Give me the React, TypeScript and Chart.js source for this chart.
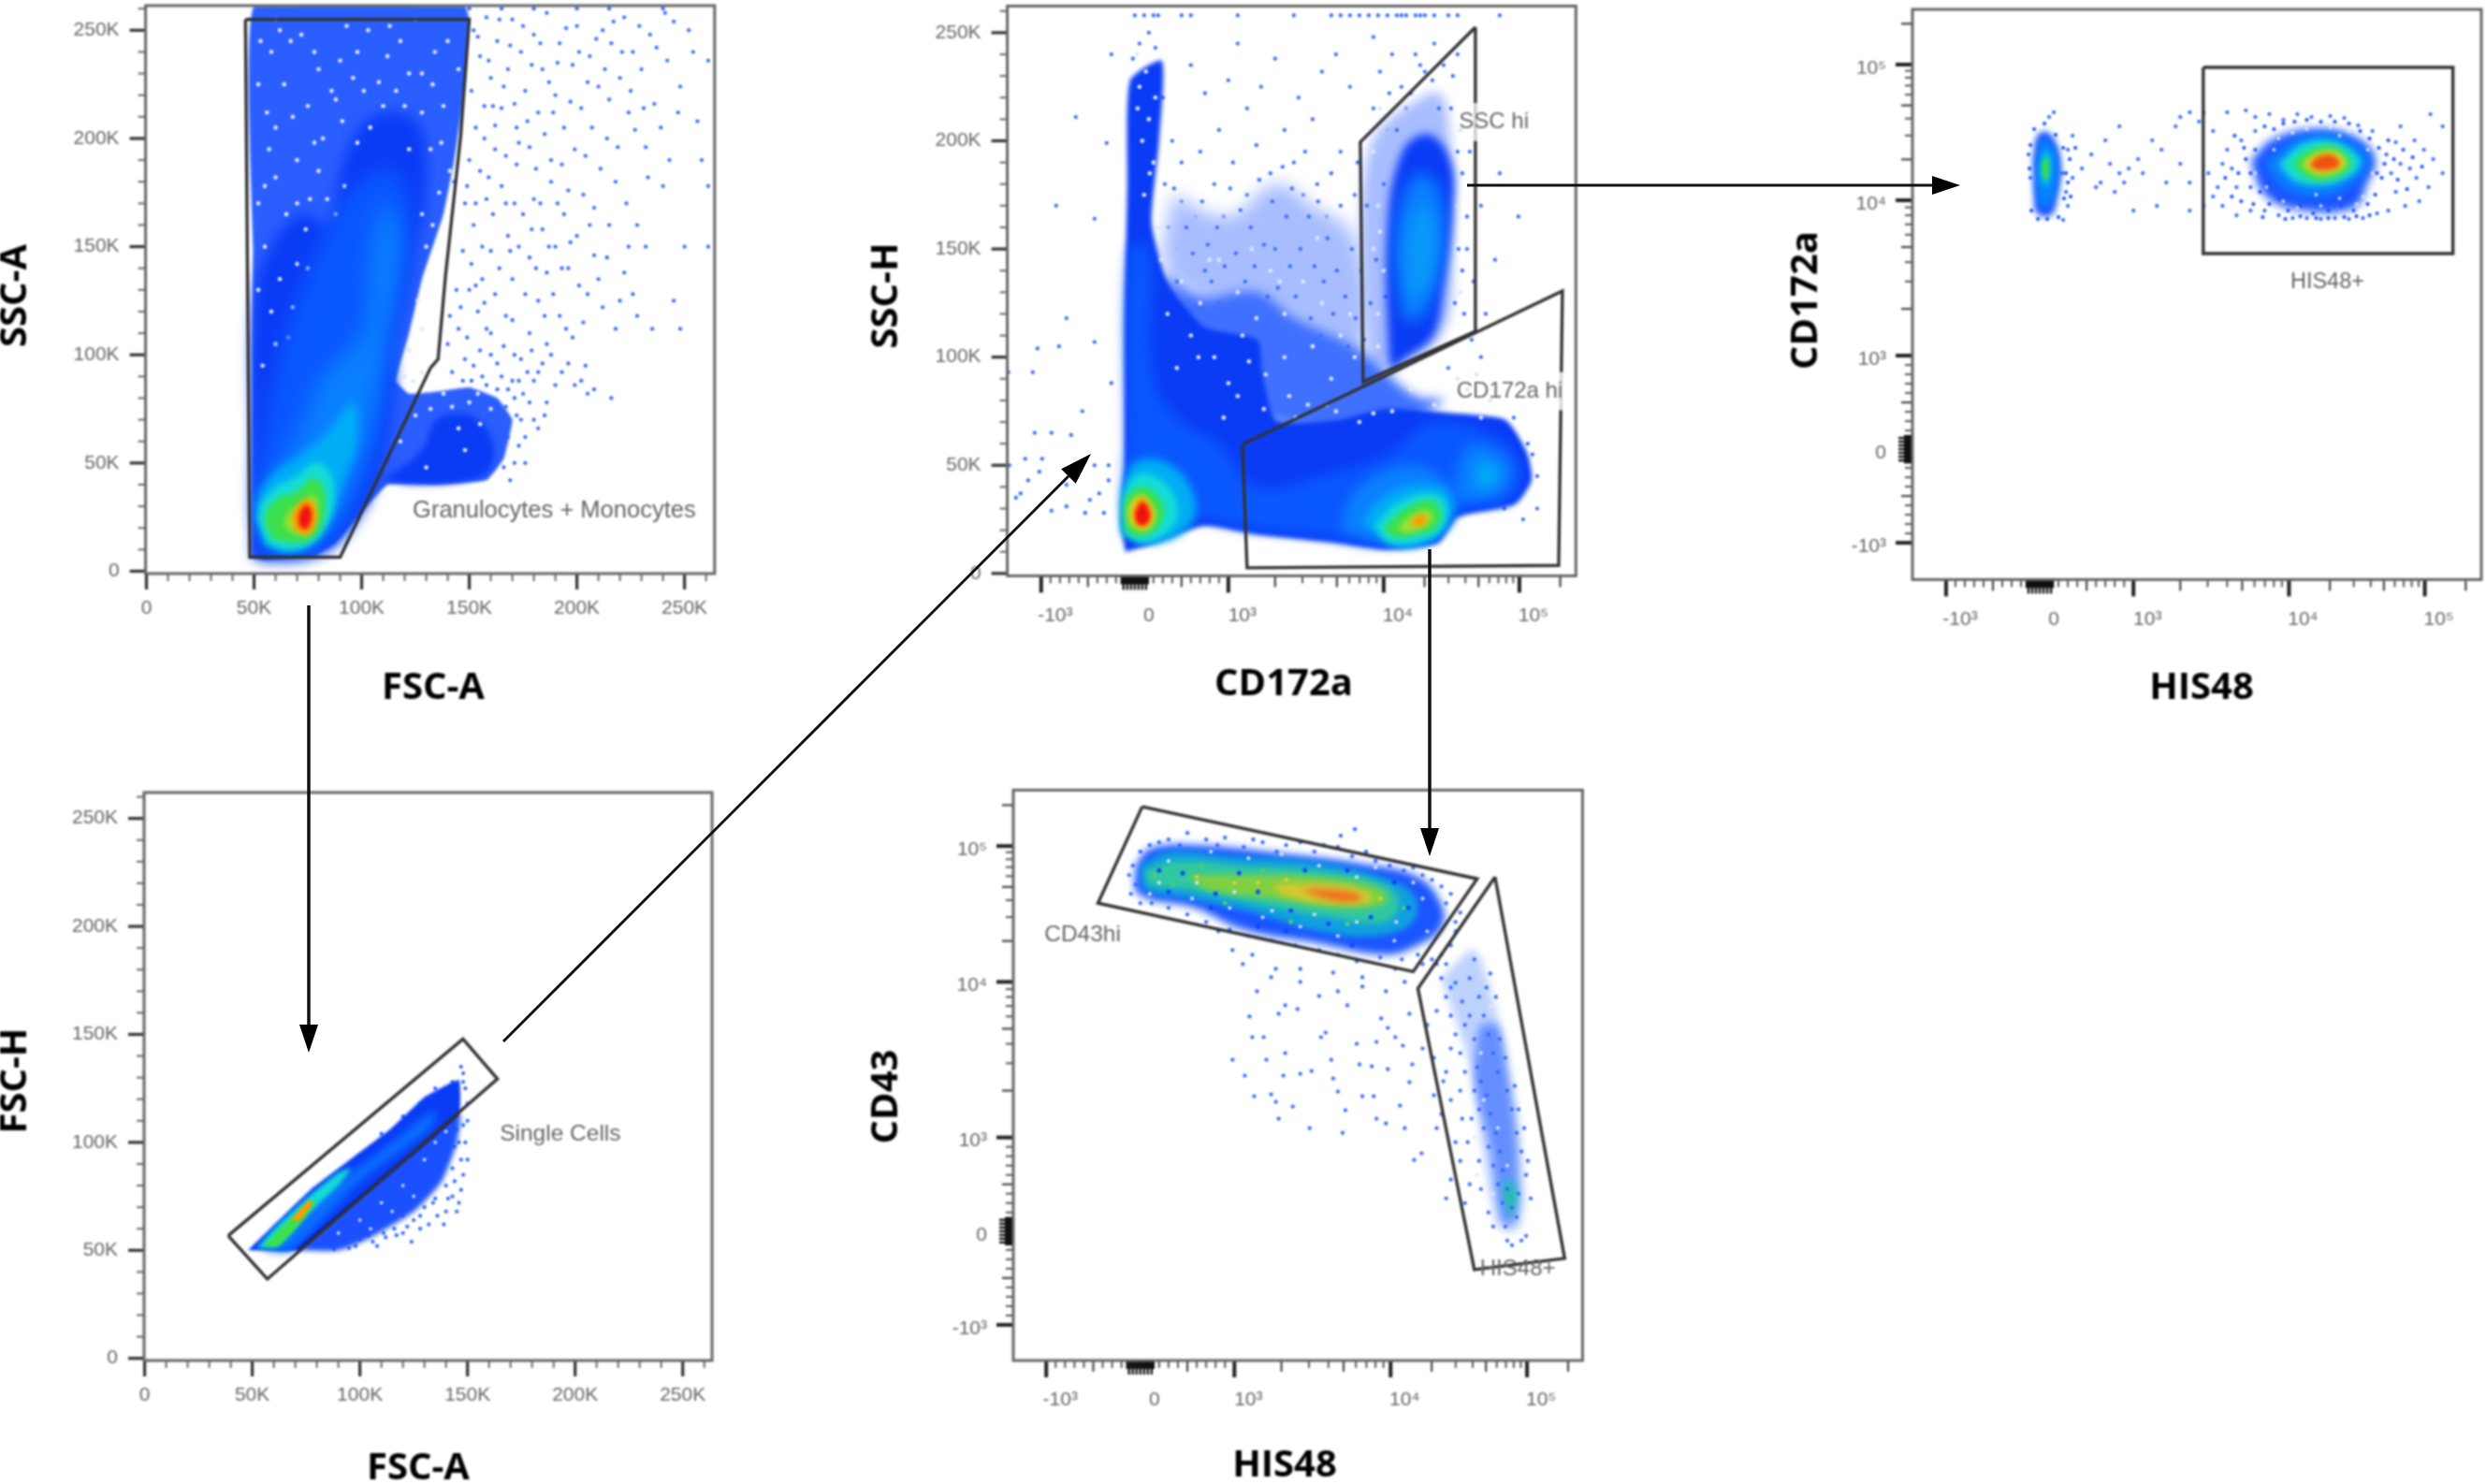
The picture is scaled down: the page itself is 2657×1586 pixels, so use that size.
import React, { useEffect, useRef } from "react";
import { Chart, registerables } from "chart.js";

type P = number[];

// ---- axis tick values and labels ----
const LINEAR_TICKS = [0, 50, 100, 150, 200, 250];
const LINEAR_LABELS = ["0", "50K", "100K", "150K", "200K", "250K"];
const LINEAR_MINOR = [10, 20, 30, 40, 60, 70, 80, 90, 110, 120, 130, 140, 160, 170, 180, 190, 210, 220, 230, 240, 260];
const BIEX_TICK_VALUES = [-1000, 0, 1000, 10000, 100000];
const BIEX_LABELS = ["-10³", "0", "10³", "10⁴", "10⁵"];
const BIEX_MAJOR = [-1000, 1000, 10000, 100000];
const BIEX_DENSE = [-140, -120, -100, -80, -60, -40, -20, 0, 20, 40, 60, 80, 100, 120, 140];
const BIEX_MINOR = [-900, -800, -700, -600, -400, -300, -200, 200, 300, 400, 600, 700, 800, 900, 3000, 4000, 6000, 7000, 8000, 9000, 30000, 40000, 60000, 70000, 80000, 90000];
const BIEX_MID = [-500, 500, 2000, 5000, 20000, 50000, 200000];

// ---- Panel 1: FSC-A (K) / SSC-A (K) ----
const P1_GATE: P[] = [[46, 255], [150, 255], [146, 201], [139, 137], [135.5, 98], [132, 94], [90, 6.5], [48, 6.5], [46, 255]];
const P1_WASH: P[] = [[49, 6], [49, 60], [49.5, 150], [50, 261], [148, 261], [150, 255], [148, 225], [143, 190], [138, 165], [128, 135], [122, 110], [116, 88], [122, 82], [135, 83], [150, 85], [163, 80], [170, 70], [166, 52], [158, 42], [135, 40], [112, 40], [100, 27], [88, 13], [78, 7], [55, 5]];
const P1_BLUE: P[] = [[50, 6], [49.5, 60], [50, 125], [58, 150], [72, 165], [85, 160], [92, 190], [105, 210], [125, 208], [130, 180], [125, 150], [120, 125], [114, 100], [115, 85], [108, 45], [95, 20], [80, 8], [55, 5]];
const P1_GRAN: P[] = [[110, 42], [128, 56], [135, 70], [150, 72], [160, 62], [160, 48], [150, 42], [125, 40]];
const P1_MID: P[] = [[55, 8], [52, 40], [60, 90], [72, 130], [95, 175], [115, 185], [122, 165], [118, 130], [112, 95], [108, 60], [95, 30], [80, 12]];
const P1_LIGHT: P[] = [[58, 12], [55, 35], [70, 62], [82, 90], [100, 110], [105, 150], [112, 170], [118, 150], [112, 110], [105, 70], [95, 40], [85, 20], [72, 10]];
const P1_SKY: P[] = [[55, 12], [51, 30], [58, 44], [72, 54], [84, 64], [96, 78], [98, 60], [92, 42], [86, 26], [78, 14], [66, 9]];
const P1_CYAN: P[] = [[56, 13], [52, 26], [58, 37], [70, 44], [78, 50], [85, 46], [87, 32], [83, 20], [75, 12], [65, 10]];
const P1_GREEN: P[] = [[58, 15], [55, 25], [60, 33], [70, 37], [77, 43], [82, 39], [83, 28], [79, 17], [70, 13]];
const P1_LIME: P[] = [[64, 21], [66, 27], [72, 31], [78, 35], [79, 24], [75, 17], [68, 18]];
const P1_ORANGE: P[] = [[69, 19], [68, 26], [73, 33], [77, 32], [79, 24], [75, 17]];
const P1_RED: P[] = [[71, 21], [71, 26], [74, 30.5], [76.5, 28], [76, 22], [74, 19.5]];
const P1_SPARSE: P[] = [[152, 250], [155, 238], [158, 256], [160, 228], [163, 245], [165, 214], [168, 232], [170, 255], [172, 205], [174, 240], [176, 222], [178, 196], [180, 248], [182, 212], [184, 232], [186, 258], [188, 190], [190, 220], [192, 244], [194, 205], [196, 176], [198, 234], [200, 252], [202, 214], [204, 192], [206, 238], [208, 168], [210, 224], [212, 250], [214, 200], [216, 244], [218, 180], [220, 228], [222, 256], [224, 212], [226, 240], [228, 160], [230, 232], [232, 196], [234, 248], [236, 216], [240, 178], [242, 236], [245, 254], [248, 224], [250, 150], [254, 240], [258, 190], [261, 236], [261, 178], [261, 150], [150, 190], [148, 170], [152, 160], [155, 185], [158, 172], [160, 148], [162, 195], [165, 178], [168, 155], [170, 135], [172, 188], [175, 165], [178, 145], [180, 172], [182, 125], [184, 158], [186, 138], [188, 180], [190, 150], [192, 118], [194, 165], [196, 140], [198, 108], [200, 155], [205, 128], [208, 146], [212, 122], [215, 160], [218, 112], [222, 138], [226, 128], [232, 150], [235, 112], [245, 125], [248, 112], [150, 130], [154, 120], [158, 112], [162, 128], [166, 104], [170, 116], [174, 98], [178, 110], [182, 92], [186, 105], [190, 86], [196, 96], [202, 88], [205, 82], [216, 80], [140, 105], [145, 112], [148, 98], [152, 95], [156, 90], [160, 100], [165, 90], [170, 88], [175, 82], [180, 70], [176, 62], [172, 72], [168, 84], [180, 88], [186, 78], [150, 260], [165, 260], [180, 260], [200, 260], [215, 260], [240, 260], [140, 210], [143, 180], [142, 225], [138, 240], [153, 205], [157, 200], [161, 215], [167, 192], [171, 170], [147, 148], [144, 130], [141, 118], [151, 142], [156, 135]];
const P1_SPARSE_MORE: P[] = [[151, 222], [154, 247], [157, 215], [159, 236], [162, 206], [164, 255], [166, 224], [169, 243], [171, 216], [173, 198], [175, 252], [177, 208], [179, 234], [181, 186], [183, 244], [185, 202], [187, 226], [189, 212], [191, 235], [193, 188], [195, 251], [197, 217], [199, 195], [201, 240], [203, 174], [205, 226], [207, 205], [209, 246], [211, 186], [213, 232], [215, 218], [217, 254], [219, 196], [221, 240], [223, 170], [225, 222], [227, 204], [229, 252], [231, 214], [233, 182], [237, 242], [239, 205], [241, 258], [243, 190], [247, 212], [252, 250], [256, 208], [149, 178], [153, 170], [156, 150], [159, 182], [161, 165], [164, 140], [167, 170], [169, 148], [173, 150], [176, 128], [179, 158], [181, 140], [183, 170], [185, 118], [187, 150], [189, 128], [191, 170], [193, 140], [195, 112], [197, 152], [201, 132], [203, 115], [206, 160], [210, 135], [214, 145], [220, 125], [224, 150], [228, 118], [146, 122], [149, 108], [153, 132], [155, 102], [157, 124], [160, 110], [163, 96], [167, 118], [171, 100], [173, 88], [177, 92], [179, 102], [184, 96], [188, 100], [193, 92], [199, 86], [204, 95], [208, 84], [142, 92], [147, 88], [151, 88], [155, 82], [158, 86], [163, 84], [167, 76], [171, 80], [174, 70], [178, 78], [182, 66], [185, 72], [173, 58], [168, 62], [171, 50], [166, 48], [176, 50], [169, 42]];
const P1_SPECKLE: P[] = [[58, 240], [64, 225], [72, 248], [80, 232], [88, 218], [98, 240], [108, 226], [118, 245], [128, 230], [138, 215], [60, 205], [70, 190], [82, 200], [92, 178], [55, 178], [65, 165], [76, 172], [55, 150], [62, 135], [70, 142], [86, 222], [104, 205], [120, 215], [132, 195], [136, 175], [130, 150], [126, 125], [122, 102], [128, 92], [138, 82], [150, 78], [160, 75], [145, 66], [125, 72], [58, 120], [66, 108], [54, 95], [103, 250], [75, 215], [93, 252], [112, 238], [60, 255], [125, 255], [140, 245], [52, 225], [67, 245], [74, 158], [80, 185], [57, 195], [96, 228], [134, 240], [116, 222], [128, 112], [124, 88], [142, 76], [154, 82], [53, 245], [62, 250], [78, 240], [90, 236], [101, 222], [113, 252], [122, 230], [133, 225], [145, 232], [56, 212], [68, 210], [78, 198], [91, 208], [98, 198], [110, 215], [128, 212], [137, 198], [141, 185], [52, 170], [60, 182], [70, 170], [84, 172], [88, 165], [133, 160], [128, 165], [122, 195], [68, 122], [60, 105], [75, 140], [52, 130], [120, 90], [132, 75], [148, 56], [155, 68], [130, 48], [118, 60]];

// ---- Panel 2: CD172a (biex channel, 1 = 10³) / SSC-H (K) ----
const P2_GATE_SSC: P[] = [[3.64, 252.6], [3.64, 112], [2.44, 88.6], [2.41, 199.4], [3.64, 252.6]];
const P2_GATE_CD172: P[] = [[1.15, 59.6], [4.57, 130.6], [4.53, 3.7], [1.2, 2.6], [1.15, 59.6]];
const P2_WASH_LIGHT: P[] = [[0.4, 175], [1.0, 165], [1.5, 180], [1.9, 170], [2.35, 155], [2.45, 105], [2.0, 92], [1.0, 120], [0.35, 140]];
const P2_WASH: P[] = [[0.3, 140], [0.7, 128], [1.3, 130], [1.7, 118], [2.2, 108], [2.5, 100], [3.0, 82], [3.3, 80], [2.7, 68], [1.5, 70], [0.8, 90]];
const P2_BASE: P[] = [[-0.1, 10], [-0.15, 24], [-0.11, 50], [-0.11, 114], [-0.08, 179], [-0.05, 228], [0.29, 237], [0.26, 200], [0.18, 162], [0.34, 136], [0.74, 114], [1.31, 108], [1.36, 93], [1.51, 71], [2.17, 71], [2.68, 76], [3.4, 74], [3.96, 71], [4.19, 56], [4.24, 43], [4.06, 32], [3.45, 26], [3.24, 14], [2.68, 11], [2.17, 14], [1.31, 18], [0.74, 22], [0.23, 14]];
const P2_MID: P[] = [[0, 15], [-0.1, 30], [-0.08, 60], [-0.05, 150], [0.15, 150], [0.2, 90], [0.5, 70], [0.9, 60], [1.3, 40], [2.0, 45], [2.7, 55], [3.2, 70], [3.9, 62], [4.12, 48], [4.0, 34], [3.4, 30], [3.15, 18], [2.6, 14], [1.9, 18], [1.2, 21], [0.6, 25]];
const P2_LOBE_PALE: P[] = [[2.5, 93], [2.5, 195], [3.14, 222], [3.32, 218], [3.38, 157], [3.27, 110]];
const P2_LOBE_BASE: P[] = [[2.72, 93], [2.7, 157], [2.86, 195], [3.14, 203], [3.38, 190], [3.4, 168], [3.3, 132], [3.19, 110], [2.89, 99]];
const P2_LOBE_LIGHT: P[] = [[2.86, 118], [2.79, 157], [2.99, 184], [3.24, 179], [3.3, 153], [3.14, 123], [2.99, 117]];
const P2_LOBE_CYAN: P[] = [[2.94, 127], [2.91, 153], [3.07, 170], [3.22, 157], [3.12, 132]];
const P2_STRETCH: P[] = [[2.2, 20], [2.35, 38], [2.9, 50], [3.35, 42], [3.45, 30], [3.2, 17], [2.7, 14]];
const P2_A0: P[] = [[-0.15, 18], [-0.12, 41], [0.03, 52], [0.39, 50], [0.64, 35], [0.59, 22], [0.23, 14]];
const P2_A1: P[] = [[-0.11, 18], [-0.11, 37], [0.06, 46], [0.34, 41], [0.46, 28], [0.34, 19], [0.08, 14]];
const P2_A2: P[] = [[-0.1, 20], [-0.1, 34], [0.08, 40], [0.26, 35], [0.31, 27], [0.21, 20], [0.03, 17]];
const P2_A3: P[] = [[-0.06, 23], [-0.05, 32], [0.08, 36], [0.19, 31], [0.21, 25], [0.11, 20]];
const P2_A4: P[] = [[-0.02, 26], [0, 31], [0.08, 35], [0.18, 29], [0.16, 24], [0.07, 21]];
const P2_A5: P[] = [[0, 28], [0.08, 33], [0.16, 28], [0.13, 23], [0.03, 23]];
const P2_B0: P[] = [[2.43, 24], [2.68, 36], [3.09, 41], [3.35, 37], [3.37, 26], [3.19, 15.5], [2.79, 13]];
const P2_B1: P[] = [[2.56, 22], [2.79, 32], [3.14, 37], [3.32, 33], [3.3, 22], [3.09, 15.5], [2.73, 14]];
const P2_B2: P[] = [[2.66, 21], [2.86, 29], [3.14, 34], [3.27, 29], [3.22, 21], [3.02, 18], [2.76, 17]];
const P2_B3: P[] = [[2.81, 21], [2.96, 27], [3.14, 29], [3.18, 25], [3.07, 21], [2.89, 19]];
const P2_B4: P[] = [[2.94, 23], [3.04, 27], [3.12, 26], [3.07, 22]];
const P2_C0: P[] = [[3.42, 41], [3.55, 58], [3.81, 58], [4.01, 50], [3.96, 39], [3.7, 34], [3.47, 34]];
const P2_C1: P[] = [[3.65, 41], [3.7, 52], [3.9, 46], [3.75, 39]];
const P2_SPARSE: P[] = [[-0.63, 211], [-0.84, 170], [-0.43, 164], [-0.25, 240], [-0.3, 199], [-0.73, 118], [-1.04, 104], [-0.81, 105], [-0.43, 107], [-1.09, 93], [-1.35, 93], [-0.56, 75], [-0.25, 88], [-1.07, 65], [-0.89, 65], [-0.68, 64], [-1.17, 53], [-0.99, 53], [-1.34, 50], [-0.43, 50], [-0.28, 50], [-1.22, 37], [-1.02, 47], [-0.73, 41], [-0.48, 34], [-0.38, 37], [-0.28, 43], [-0.73, 31], [-0.89, 29], [-0.53, 28], [-1.27, 35], [-1.14, 43], [-0.33, 28], [0.6, 235], [0.75, 222], [0.9, 205], [1.0, 228], [1.1, 245], [1.2, 215], [1.35, 225], [1.5, 238], [1.6, 205], [1.75, 220], [1.9, 210], [2.0, 232], [2.15, 240], [2.3, 225], [0.4, 200], [0.5, 190], [0.7, 195], [0.85, 180], [1.05, 190], [1.2, 175], [1.3, 198], [1.45, 185], [1.55, 170], [1.7, 190], [1.8, 175], [1.95, 180], [2.05, 165], [2.2, 195], [2.35, 175], [0.5, 172], [0.65, 165], [0.95, 165], [1.1, 158], [1.4, 165], [1.6, 155], [1.75, 160], [1.85, 150], [2.0, 148], [2.2, 150], [2.3, 135], [3.05, 235], [2.75, 240], [2.55, 248], [2.9, 215], [2.7, 205], [2.6, 190], [3.55, 150], [3.62, 135], [3.7, 170], [3.9, 185], [3.75, 120], [3.85, 145], [4.1, 165], [3.5, 185], [3.58, 195], [3.45, 240], [3.2, 245], [3.4, 230], [3.3, 235], [0, 258], [0.1, 258], [0.2, 258], [0.25, 258], [0.5, 258], [0.6, 258], [1.1, 258], [1.7, 258], [2.1, 258], [2.2, 258], [2.3, 258], [2.4, 258], [2.5, 258], [2.6, 258], [2.7, 258], [2.8, 258], [2.85, 258], [2.9, 258], [3.0, 258], [3.05, 258], [3.1, 258], [3.2, 258], [3.35, 258], [3.45, 258], [3.9, 258], [4.2, 60], [4.3, 45], [4.3, 30], [4.15, 25], [3.95, 30], [3.7, 100], [3.6, 108], [4.05, 72], [3.9, 82], [4.25, 55], [0.05, 245], [0.15, 250], [0.22, 243], [-0.02, 238], [0.3, 220], [0.32, 180], [0.36, 160], [0.45, 150], [3.48, 205], [3.52, 120]];
const P2_FIELD: P[] = [[0.42, 178], [0.55, 160], [0.62, 148], [0.72, 172], [0.78, 152], [0.82, 135], [0.88, 160], [0.96, 142], [1.02, 178], [1.08, 148], [1.13, 168], [1.18, 135], [1.24, 160], [1.28, 142], [1.33, 182], [1.38, 152], [1.42, 128], [1.47, 172], [1.5, 150], [1.53, 132], [1.58, 188], [1.62, 165], [1.66, 142], [1.68, 178], [1.72, 128], [1.77, 150], [1.82, 195], [1.86, 165], [1.88, 118], [1.92, 142], [1.96, 172], [1.99, 110], [2.02, 135], [2.06, 155], [2.1, 185], [2.12, 120], [2.16, 140], [2.2, 170], [2.25, 128], [2.28, 105], [2.32, 150], [2.36, 118], [2.38, 190], [2.42, 140], [2.45, 108], [2.48, 170], [2.5, 95], [2.52, 125], [2.55, 215], [2.58, 145], [2.62, 232], [2.66, 180], [2.68, 128], [2.72, 222], [2.8, 205], [2.85, 225], [2.95, 222], [3.0, 240], [3.1, 232], [3.18, 228], [3.25, 215], [3.38, 215], [3.45, 195], [3.46, 150], [3.42, 125], [3.5, 140], [3.55, 165], [0.45, 135], [0.6, 122], [0.75, 140], [0.9, 125], [1.05, 115], [1.2, 125], [1.35, 110], [1.5, 115], [1.7, 105], [1.85, 95], [2.05, 100], [2.25, 92], [2.4, 85], [1.5, 90], [1.75, 90], [1.95, 82], [2.15, 82], [1.6, 78], [2.6, 85], [2.8, 80], [3.35, 95], [3.45, 90], [3.55, 85], [3.65, 92], [3.8, 80]];
const P2_SPECKLE: P[] = [[0.35, 120], [0.5, 135], [0.7, 125], [0.9, 145], [1.1, 130], [1.3, 118], [1.45, 140], [1.6, 120], [1.8, 135], [2.0, 125], [2.2, 110], [2.35, 100], [1.6, 100], [1.9, 105], [2.1, 90], [1.4, 92], [1.65, 82], [1.85, 78], [2.15, 75], [2.4, 70], [2.75, 75], [2.95, 85], [0.6, 110], [0.85, 100], [1.15, 110], [0.45, 95], [1.0, 88], [0.15, 210], [0.2, 190], [0.05, 225], [0.1, 175], [0.25, 160], [0.02, 240], [0.28, 145], [2.55, 150], [2.6, 120], [2.6, 170], [3.45, 170], [3.48, 130], [0.8, 145], [1.25, 150], [1.55, 135], [1.95, 155], [2.3, 120], [3.2, 78], [3.5, 78], [3.7, 72], [2.55, 195], [2.62, 215], [0.12, 232], [0.22, 220], [0.08, 200], [0.16, 185], [0.03, 215], [0.68, 100], [1.22, 98], [1.72, 72], [2.05, 78], [2.55, 74], [1.1, 82], [0.95, 72], [1.38, 76], [2.6, 105], [2.66, 140], [2.62, 158]];

// ---- Panel 3: HIS48 / CD172a (both biex channel) ----
const P3_GATE: P[] = [[1.745, 4.08], [4.41, 4.08], [4.41, 2.09], [1.745, 2.09], [1.745, 4.08]];
const P3_R0: P[] = [[2.25, 3.08], [2.5, 3.32], [2.99, 3.42], [3.4, 3.32], [3.58, 3.1], [3.5, 2.85], [3.35, 2.58], [2.75, 2.56], [2.4, 2.72]];
const P3_R1: P[] = [[2.4, 3.05], [2.7, 3.3], [3.05, 3.38], [3.4, 3.25], [3.52, 3.05], [3.35, 2.85], [3.0, 2.7], [2.6, 2.8]];
const P3_R2: P[] = [[2.55, 3.05], [2.8, 3.26], [3.1, 3.3], [3.35, 3.18], [3.42, 3.05], [3.25, 2.88], [2.95, 2.82], [2.7, 2.88]];
const P3_R3: P[] = [[2.68, 3.05], [2.88, 3.2], [3.12, 3.24], [3.3, 3.12], [3.32, 3.02], [3.15, 2.9], [2.9, 2.88]];
const P3_R4: P[] = [[2.8, 3.05], [2.95, 3.16], [3.15, 3.18], [3.27, 3.05], [3.12, 2.95], [2.92, 2.95]];
const P3_R5: P[] = [[2.88, 3.05], [3.0, 3.14], [3.15, 3.13], [3.2, 3.03], [3.05, 2.98], [2.92, 3.0]];
const P3_L0: P[] = [[-0.07, 3.1], [-0.02, 3.36], [0.1, 3.38], [0.22, 3.1], [0.18, 2.65], [0.12, 2.5], [-0.03, 2.52], [-0.06, 2.7]];
const P3_L1: P[] = [[-0.05, 3.05], [0.02, 3.3], [0.1, 3.3], [0.2, 3.05], [0.14, 2.65], [0.0, 2.6]];
const P3_L2: P[] = [[0, 3.05], [0.05, 3.2], [0.12, 3.15], [0.13, 2.95], [0.08, 2.8], [0.01, 2.85]];
const P3_L3: P[] = [[0.02, 3.05], [0.07, 3.13], [0.1, 3.05], [0.08, 2.87], [0.03, 2.92]];
const P3_SPARSE: P[] = [[2.0, 3.6], [2.2, 3.62], [2.3, 3.55], [2.45, 3.58], [2.6, 3.52], [2.75, 3.58], [2.9, 3.55], [3.1, 3.56], [3.25, 3.54], [3.4, 3.46], [3.55, 3.4], [4.17, 3.58], [4.3, 3.45], [3.85, 3.45], [4.0, 3.3], [4.1, 3.2], [4.2, 3.1], [4.3, 2.95], [4.02, 2.9], [4.15, 2.8], [4.05, 2.65], [3.9, 2.6], [3.8, 2.75], [3.75, 2.95], [3.7, 3.15], [3.8, 3.28], [3.85, 3.05], [3.95, 3.0], [3.72, 2.55], [3.6, 2.52], [3.45, 2.47], [3.3, 2.46], [3.15, 2.47], [3.0, 2.46], [2.85, 2.47], [2.7, 2.47], [2.55, 2.5], [2.4, 2.55], [2.25, 2.55], [2.1, 2.5], [1.95, 2.6], [1.9, 2.8], [2.1, 2.8], [2.05, 3.0], [2.25, 2.8], [2.0, 3.2], [1.95, 3.05], [2.15, 3.3], [2.3, 3.4], [1.85, 3.4], [1.75, 3.6], [1.7, 3.5], [1.6, 3.6], [1.5, 3.55], [1.45, 3.45], [1.85, 2.7], [1.8, 2.95], [1.75, 2.6], [0.3, 3.2], [0.35, 2.9], [0.45, 3.0], [0.55, 3.15], [0.7, 3.3], [0.75, 3.05], [0.85, 3.45], [0.9, 2.85], [0.95, 3.0], [1.0, 2.55], [1.05, 3.1], [1.1, 2.95], [0.65, 2.85], [0.6, 2.8], [0.8, 2.75], [0.85, 2.95], [1.2, 3.3], [1.3, 3.2], [1.25, 2.6], [1.35, 2.85], [1.6, 2.55], [0.25, 2.45], [0.3, 2.6], [0.35, 3.35], [0.1, 3.55], [0.15, 3.6], [1.6, 2.85], [1.5, 3.05], [-0.12, 3.15], [-0.1, 2.9], [0.28, 2.75], [0.24, 2.95]];
const P3_CLOUD: P[] = [[2.2, 3.1], [2.25, 2.95], [2.3, 3.2], [2.35, 2.75], [2.4, 3.45], [2.45, 2.62], [2.5, 3.42], [2.55, 2.68], [2.6, 3.48], [2.65, 2.55], [2.72, 3.5], [2.78, 2.6], [2.85, 3.52], [2.92, 2.52], [3.0, 3.5], [3.08, 2.55], [3.15, 3.5], [3.22, 2.6], [3.3, 3.48], [3.35, 2.55], [3.42, 3.4], [3.5, 2.62], [3.52, 3.32], [3.58, 2.72], [3.62, 3.22], [3.65, 2.9], [3.68, 3.05], [3.72, 3.3], [3.78, 3.1], [3.6, 2.95], [2.15, 2.65], [2.05, 2.7], [2.12, 2.95], [2.18, 3.22], [2.08, 3.35], [1.98, 2.9], [3.92, 2.78], [3.98, 3.12], [4.08, 3.02], [3.88, 3.2], [3.82, 2.88], [2.28, 2.62], [2.38, 2.48], [2.62, 2.46], [2.78, 2.49], [2.95, 2.47], [3.08, 2.47], [3.25, 2.48], [3.38, 2.49], [3.52, 2.5], [-0.11, 3.0], [-0.1, 3.25], [-0.06, 3.42], [0.05, 3.48], [0.17, 3.36], [0.25, 3.22], [0.28, 2.95], [0.26, 2.68], [0.2, 2.48], [0.08, 2.46], [-0.02, 2.46], [-0.09, 2.55], [0.32, 3.1], [0.38, 3.22], [0.3, 2.85], [0.33, 2.7]];
const P3_SPECKLE: P[] = [[2.3, 2.95], [2.42, 2.8], [2.5, 3.2], [2.6, 2.65], [2.75, 2.58], [2.85, 3.42], [3.0, 2.6], [3.2, 2.68], [3.3, 3.4], [3.45, 2.7], [3.5, 3.2], [3.55, 2.95], [2.55, 3.32], [3.1, 3.44], [2.7, 3.38], [3.38, 2.62], [2.95, 2.72], [3.2, 3.35]];

// ---- Panel 4: FSC-A (K) / FSC-H (K) ----
const P4_GATE: P[] = [[38.8, 56.8], [147.9, 147.9], [163.9, 129.4], [57, 36.7], [38.8, 56.8]];
const P4_WASH: P[] = [[71, 50], [146, 113], [145, 100], [138, 82], [125, 68], [105, 56], [90, 50]];
const P4_BAND: P[] = [[48, 50], [77, 78], [114, 106], [130, 121], [146, 129], [146, 113], [71, 50]];
const P4_RIDGE: P[] = [[55, 50], [80, 74], [115, 100], [135, 115], [133, 107], [100, 82], [68, 50]];
const P4_CYAN: P[] = [[52, 51], [60, 60], [75, 74], [90, 86], [96, 88], [90, 80], [75, 66], [62, 52]];
const P4_GREEN: P[] = [[55, 52], [66, 63], [76, 72], [80, 73], [72, 62], [62, 52]];
const P4_ORANGE: P[] = [[68, 64], [76, 73], [78, 72], [72, 64]];
const P4_EDGE: P[] = [[71, 50], [146, 113]];
const P4_SPARSE: P[] = [[80, 52], [88, 50.5], [92, 54], [95, 51], [100, 55], [104, 57], [108, 52], [112, 56], [116, 60], [120, 58], [124, 54], [128, 60], [132, 62], [136, 66], [140, 68], [143, 75], [146, 72], [148, 85], [147, 92], [143, 88], [140, 80], [135, 74], [130, 70], [125, 64], [120, 66], [115, 65], [110, 62], [105, 60], [146, 100], [148, 108], [144, 98], [140, 92], [136, 84], [130, 78], [150, 118], [149, 125], [148, 128], [148, 132], [147, 135], [143, 128], [135, 125], [128, 118], [120, 112], [110, 104], [100, 94], [86, 52], [97, 58], [102, 63], [107, 68], [113, 70], [118, 74], [123, 72], [127, 82], [132, 86], [138, 95], [142, 100], [145, 106], [144, 82], [141, 74], [134, 72], [128, 66], [122, 61], [117, 57], [111, 58], [106, 54], [98, 52], [149, 100], [150, 92], [147, 78], [145, 68], [139, 62], [150, 110]];
const P4_SPECKLE: P[] = [[90, 58], [100, 64], [110, 72], [120, 80], [130, 92], [135, 100], [125, 75], [115, 68], [140, 105], [105, 60]];

// ---- Panel 5: HIS48 / CD43 (both biex channel) ----
const P5_GATE_HI: P[] = [[0.02, 4.53], [3.58, 3.76], [2.9, 2.77], [-0.45, 3.5], [0.02, 4.53]];
const P5_GATE_HIS: P[] = [[3.77, 3.78], [4.51, -0.29], [3.55, -0.41], [2.95, 2.59], [3.77, 3.78]];
const P5_L1: P[] = [[-0.05, 3.9], [0.1, 4.08], [0.58, 4.12], [1.59, 4.02], [2.36, 3.92], [2.95, 3.78], [3.2, 3.49], [3.2, 3.24], [2.95, 3.05], [2.61, 2.95], [1.85, 3.08], [1.09, 3.22], [0.58, 3.45], [-0.02, 3.6]];
const P5_L2: P[] = [[0, 3.9], [0.3, 4.05], [1, 4.0], [1.8, 3.95], [2.5, 3.8], [2.9, 3.6], [2.9, 3.3], [2.5, 3.15], [1.9, 3.2], [1.2, 3.4], [0.5, 3.55], [0.05, 3.65]];
const P5_L3: P[] = [[0.05, 3.85], [0.4, 3.95], [1.1, 3.9], [1.9, 3.85], [2.6, 3.7], [2.75, 3.5], [2.6, 3.3], [2.0, 3.35], [1.2, 3.5], [0.5, 3.65], [0.1, 3.7]];
const P5_L4: P[] = [[0.5, 3.8], [1.2, 3.8], [1.9, 3.78], [2.55, 3.65], [2.6, 3.5], [2.1, 3.45], [1.4, 3.55], [0.7, 3.65]];
const P5_L5: P[] = [[1.4, 3.7], [2.0, 3.7], [2.4, 3.62], [2.45, 3.52], [2.0, 3.5], [1.5, 3.6]];
const P5_L6: P[] = [[1.7, 3.65], [2.1, 3.64], [2.35, 3.58], [2.3, 3.52], [2.0, 3.54]];
const P5_ARM: P[] = [[3.2, 2.7], [3.5, 1.78], [3.65, 0.8], [3.8, 0.05], [4.0, 0.0], [4.08, 0.32], [4.0, 1.29], [3.8, 2.27], [3.55, 3.0]];
const P5_ARM_CORE: P[] = [[3.6, 2.2], [3.55, 1.6], [3.72, 0.9], [3.85, 0.1], [3.98, 0.1], [4.0, 0.9], [3.9, 1.7], [3.8, 2.2]];
const P5_ARM_TIP: P[] = [[3.85, 0.55], [3.9, 0.2], [3.98, 0.2], [3.98, 0.5]];
const P5_SPARSE: P[] = [[1.24, 2.56], [1.16, 2.29], [1.47, 2.32], [1.54, 2.41], [1.67, 2.37], [1.19, 2.07], [1.31, 2.07], [0.98, 1.83], [1.34, 1.83], [1.54, 1.9], [1.11, 1.66], [1.52, 1.66], [1.7, 1.68], [1.82, 1.71], [1.21, 1.44], [1.39, 1.46], [1.44, 1.38], [1.62, 1.33], [1.47, 1.2], [1.8, 1.1], [1.97, 2.12], [1.92, 2.07], [2.2, 2.41], [2.03, 1.83], [2.3, 2.0], [2.51, 2.02], [2.33, 1.78], [2.46, 1.76], [2.63, 1.73], [2.05, 1.63], [2.1, 1.49], [2.18, 1.29], [2.36, 1.44], [2.48, 1.44], [2.15, 1.05], [2.51, 1.2], [2.61, 1.15], [2.76, 1.34], [2.81, 1.1], [2.91, 0.76], [2.99, 0.83], [2.63, 2.17], [2.71, 2.07], [2.79, 1.98], [2.89, 1.78], [2.86, 1.59], [2.56, 2.27], [2.86, 2.32], [1.9, 2.51], [2.1, 2.56], [2.36, 2.61], [2.61, 2.56], [2.81, 2.66], [2.28, 4.29], [2.13, 4.22], [1.7, 2.66], [1.39, 2.71], [1.09, 2.85], [0.98, 3.0], [0.83, 3.2], [1.19, 2.95], [1.44, 2.8], [1.7, 2.8], [2.05, 2.76], [2.36, 2.71], [2.71, 2.8], [0, 3.5], [-0.12, 3.8], [-0.1, 3.6], [0.2, 4.15], [0.5, 4.25], [0.9, 4.2], [1.3, 4.15], [1.7, 4.15], [2.1, 4.1], [2.5, 3.95], [2.8, 3.85], [3.1, 3.75], [3.3, 3.6], [3.4, 3.4], [3.35, 3.2], [3.2, 2.95], [3.0, 2.85], [3.1, 2.9], [3.2, 2.7], [3.25, 2.5], [3.3, 2.3], [3.35, 2.1], [3.4, 1.9], [3.45, 1.7], [3.55, 1.5], [3.6, 1.3], [3.65, 1.1], [3.7, 0.9], [3.75, 0.7], [3.8, 0.5], [3.85, 0.3], [3.6, 2.5], [3.65, 2.3], [3.7, 2.1], [3.75, 1.9], [3.8, 1.7], [3.9, 1.5], [3.95, 1.3], [4.0, 1.05], [4.05, 0.85], [4.1, 0.6], [4.15, 0.35], [3.5, 2.7], [3.55, 2.9], [3.5, 2.3], [3.3, 1.95], [3.4, 1.5], [3.3, 1.4], [3.2, 1.25], [3.15, 1.1], [3.35, 0.95], [3.4, 0.75], [3.5, 0.5], [3.45, 0.3], [3.3, 0.55], [3.25, 0.35], [3.9, -0.1], [3.95, -0.15], [4.05, -0.1], [4.1, -0.05], [3.78, 2.5], [3.68, 2.6]];
const P5_CLOUD: P[] = [[-0.05, 3.7], [-0.08, 3.9], [0, 4.05], [0.1, 4.12], [0.3, 4.18], [0.42, 4.12], [0.7, 4.18], [0.82, 4.12], [1.1, 4.1], [1.2, 4.18], [1.45, 4.05], [1.55, 4.12], [1.85, 4.05], [1.95, 4.12], [2.25, 4.0], [2.4, 4.05], [2.65, 3.9], [2.9, 3.88], [3.0, 3.8], [3.2, 3.68], [3.25, 3.5], [3.35, 3.3], [3.3, 3.05], [3.15, 2.85], [2.95, 2.95], [2.78, 2.9], [2.55, 2.92], [2.3, 2.88], [2.1, 2.95], [1.9, 3.0], [1.65, 3.05], [1.4, 3.1], [1.15, 3.15], [0.95, 3.22], [0.7, 3.3], [0.5, 3.38], [0.3, 3.45], [0.12, 3.5], [3.25, 2.85], [3.35, 2.65], [3.42, 2.45], [3.45, 2.2], [3.55, 2.05], [3.58, 1.75], [3.62, 1.6], [3.68, 1.45], [3.72, 1.25], [3.78, 1.05], [3.82, 0.85], [3.85, 0.65], [3.9, 0.45], [3.95, 0.25], [3.72, 2.75], [3.82, 2.05], [3.88, 1.85], [3.98, 1.55], [4.02, 1.3], [4.08, 1.1], [4.12, 0.75], [3.52, 1.2], [3.48, 0.95], [3.6, 0.75], [3.62, 0.45], [3.7, 0.2], [3.75, 0.05], [3.88, 0.05], [4.0, 0.15], [4.02, 0.4], [3.42, 1.2], [3.22, 1.6], [3.12, 1.45], [3.3, 2.6], [3.15, 2.35], [3.05, 2.2], [3.0, 1.95], [3.12, 1.85], [3.25, 1.7]];
const P5_SPECKLE: P[] = [[0.1, 3.6], [0.3, 3.95], [0.55, 3.55], [0.75, 4.05], [0.95, 3.45], [1.15, 3.98], [1.3, 3.35], [1.5, 4.02], [1.7, 3.25], [1.9, 3.9], [2.1, 3.15], [2.3, 3.3], [2.5, 3.88], [2.7, 3.1], [2.9, 3.72], [3.05, 3.2], [0.2, 3.72], [0.6, 3.72], [1.0, 3.62], [1.4, 3.42], [1.85, 3.38], [2.3, 3.78], [2.72, 3.3], [3.0, 3.55], [3.65, 1.4], [3.55, 1.0], [3.8, 1.1], [3.9, 0.7], [3.62, 1.9], [3.72, 2.4], [3.58, 0.6], [3.75, 0.4]];
const P5_DARK: P[] = [[0.45, 3.82], [0.8, 3.6], [1.05, 3.82], [1.25, 3.62], [1.6, 3.42], [1.75, 3.85], [2.0, 3.28], [2.2, 3.85], [2.45, 3.35], [0.2, 3.85], [0.3, 3.62], [2.85, 3.45], [2.7, 3.72], [1.55, 3.2], [1.25, 3.25], [2.25, 3.05], [0.75, 3.45]];
const P5_GREENS: P[] = [[0.15, 3.8], [0.35, 3.7], [0.65, 3.9], [1.0, 3.75], [1.3, 3.85], [1.6, 3.3], [2.2, 3.28], [2.6, 3.6], [2.8, 3.45], [0.9, 3.5]];
const P5_YELLOWS: P[] = [[1.0, 3.72], [0.6, 3.78], [1.25, 3.72], [1.55, 3.75], [2.55, 3.55]];

// ---- layout and labels ----
const AXIS_W = 140;
const AXIS_H = 100;

Chart.register(
  {
    id: "contourBlur",
    beforeDatasetDraw(chart: any, args: any) {
      const b = chart.data.datasets[args.index].blurPx;
      if (b) chart.ctx.filter = `blur(${b}px)`;
    },
    afterDatasetDraw(chart: any) {
      chart.ctx.filter = "none";
    },
  } as any,
  ...registerables
);

function biex(v: number): number {
  const a = Math.abs(v);
  const s = Math.sign(v);
  if (a <= 1000) return v / 1000;
  if (a <= 10000) return s * (1 + 1.66 * Math.log10(a / 1000));
  return s * (2.66 + 1.45 * Math.log10(a / 10000));
}

const contour = (pts: P[], color: string, blurPx = 3, tension = 0.4) => ({
  kind: "c", pts, color, blurPx, tension,
});
const dots = (pts: P[], color: string, radius = 2.1) => ({ kind: "d", pts, color, radius });
const gate = (pts: P[]) => ({ kind: "g", pts });

const WASH = "#3f70ff";
const PALE = "#a8bdff";
const BASE = "#0a3cf5";
const MID = "#0a58ff";
const LIGHT = "#0a80ff";
const SKY = "#00aef5";
const CYAN = "#14dcd8";
const GREEN = "#3ce04a";
const LIME = "#a8e030";
const YELLOW = "#e8d820";
const ORANGE = "#ff9a00";
const RED = "#f01010";
const DOT = "#2f66ff";
const SPECK = "#dfe7ff";

const PANELS: any[] = [
  {
    frame: [155.6, 763.8, 6, 613],
    x: { kind: "lin", min: -0.4, max: 264, title: "FSC-A", at: [463, 736] },
    y: { kind: "lin", min: -1.1, max: 261.4, title: "SSC-A", at: [17, 316] },
    layers: [
      dots(P1_SPARSE, DOT),
      dots(P1_SPARSE_MORE, DOT),
      contour(P1_WASH, "#2a5eff", 1.2, 0.1),
      contour(P1_GRAN, BASE, 3),
      contour(P1_BLUE, BASE, 7),
      dots(P1_SPECKLE, SPECK, 2.3),
      contour(P1_MID, MID, 10),
      contour(P1_LIGHT, LIGHT, 11),
      contour(P1_SKY, SKY, 5),
      contour(P1_CYAN, CYAN, 3),
      contour(P1_GREEN, GREEN, 3),
      contour(P1_LIME, LIME, 3),
      contour(P1_ORANGE, ORANGE, 2.5),
      contour(P1_RED, RED, 2),
      gate(P1_GATE),
    ],
    labels: [{ text: "Granulocytes + Monocytes", at: [123.7, 28], size: 25.5 }],
  },
  {
    frame: [1076.6, 1684.3, 6.5, 615.4],
    x: { kind: "bi", min: -1.362, max: 4.714, title: "CD172a", at: [1372, 732] },
    y: { kind: "lin", min: -1.1, max: 262.3, title: "SSC-H", at: [948, 316] },
    layers: [
      dots(P2_SPARSE, DOT),
      contour(P2_WASH_LIGHT, PALE, 9),
      contour(P2_LOBE_PALE, PALE, 6),
      dots(P2_FIELD, DOT),
      contour(P2_WASH, WASH, 6),
      contour(P2_BASE, BASE, 2, 0.2),
      contour(P2_LOBE_BASE, BASE, 5),
      dots(P2_SPECKLE, SPECK, 2.3),
      contour(P2_MID, MID, 7),
      contour(P2_LOBE_LIGHT, LIGHT, 8),
      contour(P2_LOBE_CYAN, "#0a98fa", 8),
      contour(P2_STRETCH, LIGHT, 6),
      contour(P2_C0, LIGHT, 7),
      contour(P2_C1, SKY, 7),
      contour(P2_A0, SKY, 4),
      contour(P2_A1, CYAN, 3),
      contour(P2_A2, GREEN, 3),
      contour(P2_A3, YELLOW, 3),
      contour(P2_A4, ORANGE, 2.5),
      contour(P2_A5, RED, 2),
      contour(P2_B0, SKY, 4),
      contour(P2_B1, CYAN, 3),
      contour(P2_B2, GREEN, 3),
      contour(P2_B3, LIME, 3),
      contour(P2_B4, ORANGE, 2.5),
      gate(P2_GATE_SSC),
      gate(P2_GATE_CD172),
    ],
    labels: [
      { text: "SSC hi", at: [3.464, 208.7], size: 24, bg: "rgba(255,255,255,0.75)" },
      { text: "CD172a hi", at: [3.439, 84.3], size: 24, bg: "rgba(255,255,255,0.8)" },
    ],
  },
  {
    frame: [2044, 2652, 10, 619.4],
    x: { kind: "bi", min: -1.359, max: 4.713, title: "HIS48", at: [2353, 736] },
    y: { kind: "bi", min: -1.393, max: 4.7, title: "CD172a", at: [1931, 321] },
    layers: [
      contour(P3_R0, "#1a55ff", 5),
      contour(P3_L0, "#1a55ff", 3),
      contour(P3_L1, LIGHT, 3),
      contour(P3_L2, SKY, 2.5),
      contour(P3_L3, GREEN, 2),
      contour(P3_R1, LIGHT, 4),
      contour(P3_R2, CYAN, 3),
      contour(P3_R3, GREEN, 3),
      contour(P3_R4, YELLOW, 3),
      contour(P3_R5, "#f05010", 2.5),
      dots(P3_SPARSE, DOT),
      dots(P3_CLOUD, "#1a50ff"),
      dots(P3_SPECKLE, SPECK, 1.8),
      gate(P3_GATE),
    ],
    labels: [{ text: "HIS48+", at: [2.675, 1.79], size: 23.5 }],
  },
  {
    frame: [154, 761, 847, 1454],
    x: { kind: "lin", min: -0.26, max: 263.6, title: "FSC-A", at: [447, 1570] },
    y: { kind: "lin", min: -1, max: 262, title: "FSC-H", at: [17, 1155] },
    layers: [
      dots(P4_SPARSE, DOT),
      contour(P4_WASH, "#1a50ff", 2.5, 0.2),
      dots(P4_SPECKLE, SPECK, 1.8),
      contour(P4_BAND, BASE, 1, 0.1),
      contour(P4_RIDGE, "#0a70ff", 4, 0.2),
      contour(P4_CYAN, CYAN, 2, 0.2),
      contour(P4_GREEN, GREEN, 1.5, 0.2),
      contour(P4_ORANGE, ORANGE, 1.2, 0.2),
      { kind: "e", pts: P4_EDGE, color: "#001090" },
      gate(P4_GATE),
    ],
    labels: [{ text: "Single Cells", at: [165, 103.8], size: 24.5 }],
  },
  {
    frame: [1083, 1691.4, 844.4, 1454],
    x: { kind: "bi", min: -1.35, max: 4.7, title: "HIS48", at: [1373, 1567] },
    y: { kind: "bi", min: -1.38, max: 4.707, title: "CD43", at: [948, 1172] },
    layers: [
      contour(P5_ARM, "rgba(70,125,255,0.35)", 4, 0.25),
      contour(P5_ARM_CORE, "rgba(30,90,255,0.55)", 4, 0.3),
      contour(P5_ARM_TIP, "#20c0b0", 4),
      contour(P5_L1, "#1a55ff", 4),
      contour(P5_L2, "#10a0e0", 3),
      contour(P5_L3, "#30c8a0", 3),
      contour(P5_L4, "#80d040", 3),
      contour(P5_L5, "#d8c830", 3),
      contour(P5_L6, "#f07020", 3),
      dots(P5_SPARSE, DOT),
      dots(P5_CLOUD, DOT),
      dots(P5_DARK, "#1040ff", 2.4),
      dots(P5_GREENS, "#50d070", 2.4),
      dots(P5_YELLOWS, "#e0d030", 2.2),
      dots(P5_SPECKLE, SPECK, 1.9),
      gate(P5_GATE_HI),
      gate(P5_GATE_HIS),
    ],
    labels: [
      { text: "CD43hi", at: [-1.02, 3.16], size: 24.5 },
      { text: "HIS48+", at: [3.61, -0.405], size: 24 },
    ],
  },
];

function axisOptions(ax: any, horizontal: boolean) {
  const isLin = ax.kind === "lin";
  const values = isLin ? LINEAR_TICKS : BIEX_TICK_VALUES.map(biex);
  const labels = isLin ? LINEAR_LABELS : BIEX_LABELS;
  return {
    type: "linear",
    min: ax.min,
    max: ax.max,
    position: horizontal ? "bottom" : "left",
    grid: { display: false, drawTicks: false },
    border: { display: false },
    title: {
      display: true,
      text: ax.title,
      color: "#000",
      padding: 0,
      font: { family: "'Open Sans'", size: 40, weight: "bold" },
    },
    ticks: {
      autoSkip: false,
      maxRotation: 0,
      color: "#666",
      font: { family: "'Liberation Sans'", size: 21 },
      padding: horizontal ? (isLin ? 25 : 30) : 28,
      labelOffset: isLin ? 0 : horizontal ? 15 : 4,
      callback: (_v: number, i: number) => labels[i],
    },
    afterBuildTicks(scale: any) {
      scale.ticks = values.map((value) => ({ value }));
    },
    afterFit(scale: any) {
      if (horizontal) scale.height = AXIS_H;
      else scale.width = AXIS_W;
      scale.paddingTop = scale.paddingBottom = scale.paddingLeft = scale.paddingRight = 0;
      if (!scale.__pinned) {
        scale.__pinned = true;
        const draw = scale.drawTitle;
        scale.drawTitle = function (...args: any[]) {
          const ctx = scale.ctx;
          const defX = horizontal ? (scale.left + scale.right) / 2 : scale.left + 24;
          const defY = horizontal ? scale.bottom - 24 : (scale.top + scale.bottom) / 2;
          ctx.save();
          ctx.translate(ax.at[0] - defX, ax.at[1] - defY);
          draw.apply(scale, args);
          ctx.restore();
        };
      }
    },
  };
}

function tickPlan(kind: string): [number, number, number, string][] {
  if (kind === "lin") {
    return [
      ...LINEAR_MINOR.map((v) => [v, 8, 2, "#666"] as [number, number, number, string]),
      ...LINEAR_TICKS.map((v) => [v, 17, 3.2, "#333"] as [number, number, number, string]),
    ];
  }
  return [
    ...BIEX_MINOR.map((v) => [biex(v), 8, 2, "#555"] as [number, number, number, string]),
    ...BIEX_MID.map((v) => [biex(v), 12, 2.2, "#444"] as [number, number, number, string]),
    ...BIEX_DENSE.map((v) => [biex(v), v % 40 === 0 ? 15 : 9, 2.4, "#111"] as [number, number, number, string]),
    ...BIEX_MAJOR.map((v) => [biex(v), 18, 4, "#222"] as [number, number, number, string]),
  ];
}

function framePlugin(panel: any) {
  return {
    id: "flowFrame",
    afterDatasetsDraw(chart: any) {
      const { ctx, chartArea: a, scales } = chart;
      ctx.save();
      for (const l of panel.labels) {
        const px = scales.x.getPixelForValue(l.at[0]);
        const py = scales.y.getPixelForValue(l.at[1]);
        ctx.font = `${l.size}px 'Liberation Sans'`;
        ctx.textBaseline = "middle";
        ctx.textAlign = "left";
        if (l.bg) {
          const w = ctx.measureText(l.text).width;
          ctx.fillStyle = l.bg;
          ctx.fillRect(px - 2, py - l.size * 0.85, w + 4, l.size * 1.7);
        }
        ctx.fillStyle = "#666";
        ctx.fillText(l.text, px, py);
      }
      for (const [v, len, w, c] of tickPlan(panel.x.kind)) {
        const p = scales.x.getPixelForValue(v);
        ctx.strokeStyle = c;
        ctx.lineWidth = w;
        ctx.beginPath();
        ctx.moveTo(p, a.bottom);
        ctx.lineTo(p, a.bottom + len);
        ctx.stroke();
      }
      for (const [v, len, w, c] of tickPlan(panel.y.kind)) {
        const p = scales.y.getPixelForValue(v);
        ctx.strokeStyle = c;
        ctx.lineWidth = w;
        ctx.beginPath();
        ctx.moveTo(a.left, p);
        ctx.lineTo(a.left - len, p);
        ctx.stroke();
      }
      ctx.strokeStyle = "#666";
      ctx.lineWidth = 3;
      ctx.strokeRect(a.left, a.top, a.right - a.left, a.bottom - a.top);
      ctx.restore();
    },
  };
}

function buildDataset(layer: any, i: number) {
  const data = layer.pts.map(([x, y]: P) => ({ x, y }));
  if (layer.kind === "d") {
    return {
      data, order: -i, showLine: false,
      pointRadius: layer.radius, pointBackgroundColor: layer.color, pointBorderWidth: 0,
    };
  }
  if (layer.kind === "c") {
    return {
      data: [...data, data[0]], order: -i, showLine: true, fill: "shape",
      backgroundColor: layer.color, borderColor: "transparent", borderWidth: 0,
      pointRadius: 0, tension: layer.tension, blurPx: layer.blurPx,
    };
  }
  if (layer.kind === "e") {
    return {
      data, order: -i, showLine: true, fill: false, borderColor: layer.color,
      borderWidth: 3, pointRadius: 0, tension: 0, blurPx: 1,
    };
  }
  return {
    data, order: -i, showLine: true, fill: false, borderColor: "#333",
    borderWidth: 3.4, pointRadius: 0, tension: 0,
  };
}

function Arrow({ from, to, head = 30, half = 10, w = 3 }: any) {
  const dx = to[0] - from[0];
  const dy = to[1] - from[1];
  const L = Math.hypot(dx, dy);
  const ux = dx / L;
  const uy = dy / L;
  const bx = to[0] - ux * head;
  const by = to[1] - uy * head;
  const pts = `${to[0]},${to[1]} ${bx - uy * half},${by + ux * half} ${bx + uy * half},${by - ux * half}`;
  return (
    <g>
      <line x1={from[0]} y1={from[1]} x2={bx} y2={by} stroke="#111" strokeWidth={w} />
      <polygon points={pts} fill="#000" />
    </g>
  );
}

export default function App() {
  const refs = useRef<(HTMLCanvasElement | null)[]>([]);
  useEffect(() => {
    const charts = PANELS.map((panel, idx) => {
      const [L, R, T, B] = panel.frame;
      return new Chart(refs.current[idx] as HTMLCanvasElement, {
        type: "scatter",
        data: { datasets: panel.layers.map(buildDataset) },
        options: {
          animation: false,
          responsive: false,
          devicePixelRatio: 1,
          layout: {
            autoPadding: false,
            padding: { left: L - AXIS_W, right: 2657 - R, top: T, bottom: 1586 - B - AXIS_H },
          },
          plugins: { legend: { display: false }, tooltip: { enabled: false } },
          scales: { x: axisOptions(panel.x, true), y: axisOptions(panel.y, false) },
        } as any,
        plugins: [framePlugin(panel)],
      } as any);
    });
    return () => charts.forEach((c) => c.destroy());
  }, []);

  return (
    <div style={{ position: "absolute", left: 0, top: 0, width: 2657, height: 1586, background: "#fff", overflow: "hidden" }}>
      {PANELS.map((_, i) => (
        <canvas
          key={i}
          ref={(el) => { refs.current[i] = el; }}
          width={2657}
          height={1586}
          style={{ position: "absolute", left: 0, top: 0, width: 2657, height: 1586, filter: "blur(0.8px)" }}
        />
      ))}
      <svg width={2657} height={1586} style={{ position: "absolute", left: 0, top: 0 }}>
        <Arrow from={[330, 647]} to={[330, 1125]} head={30} half={10} w={3.5} />
        <Arrow from={[538, 1113]} to={[1166, 485]} head={34} half={11} w={3} />
        <Arrow from={[1568, 198]} to={[2095, 198]} head={30} half={10} w={3} />
        <Arrow from={[1528, 587]} to={[1528, 915]} head={30} half={10} w={3.5} />
      </svg>
    </div>
  );
}
